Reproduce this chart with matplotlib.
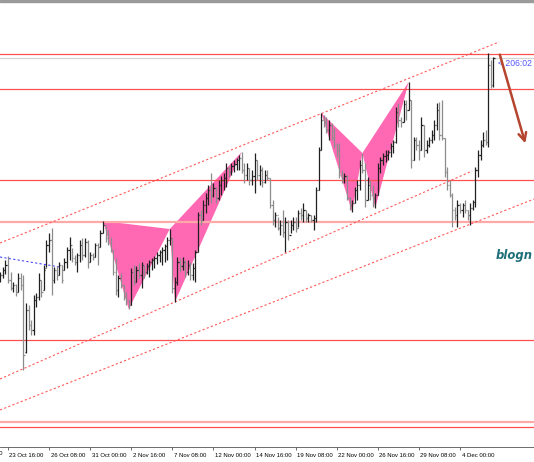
import matplotlib
matplotlib.use("Agg")
import matplotlib.pyplot as plt
import matplotlib.transforms as mtransforms
from matplotlib.patches import Rectangle
import numpy as np

# H4 bars, price in points
highs = [228, 233, 240, 244, 228, 218, 216, 227, 227, 225,
         197, 195, 180, 205, 207, 227, 220, 235, 260, 267,
         272, 233, 234, 238, 235, 242, 253, 263, 252, 245,
         247, 260, 262, 262, 260, 248, 247, 257, 257, 270,
         279, 274, 270, 263, 250, 242, 225, 227, 215, 208,
         200, 232, 235, 234, 237, 238, 235, 237, 240, 242,
         244, 248, 250, 253, 256, 263, 271, 262, 223, 243,
         242, 243, 240, 240, 238, 237, 250, 288, 290, 300,
         307, 315, 327, 317, 313, 320, 324, 327, 337, 333,
         337, 340, 342, 345, 348, 337, 337, 332, 330, 347,
         340, 335, 333, 330, 330, 322, 300, 288, 283, 280,
         290, 283, 280, 280, 283, 283, 290, 292, 297, 290,
         287, 285, 285, 313, 353, 387, 385, 383, 380, 377,
         372, 357, 357, 330, 327, 325, 303, 300, 313, 320,
         340, 347, 337, 323, 320, 315, 307, 337, 343, 347,
         350, 350, 357, 360, 393, 397, 383, 400, 400, 418,
         400, 363, 363, 360, 383, 375, 360, 363, 370, 380,
         397, 398, 400, 362, 333, 320, 307, 293, 300, 297,
         297, 300, 290, 297, 300, 333, 350, 360, 368, 370,
         447, 440, 443]
lows = [218, 222, 226, 217, 210, 208, 204, 208, 210, 130,
        147, 170, 165, 165, 193, 200, 203, 210, 233, 248,
        205, 217, 220, 225, 217, 230, 232, 240, 238, 235,
        228, 238, 240, 243, 232, 238, 240, 243, 235, 253,
        267, 258, 255, 248, 225, 205, 203, 212, 200, 195,
        191, 195, 215, 218, 222, 212, 222, 226, 223, 230,
        232, 236, 238, 235, 238, 240, 255, 207, 198, 215,
        228, 230, 223, 225, 220, 220, 218, 248, 275, 280,
        287, 295, 297, 303, 297, 300, 305, 310, 313, 323,
        325, 328, 330, 330, 327, 317, 320, 315, 315, 307,
        320, 315, 313, 317, 320, 292, 275, 273, 270, 265,
        263, 248, 260, 267, 270, 268, 273, 280, 278, 278,
        278, 278, 270, 278, 310, 350, 373, 367, 360, 360,
        352, 343, 322, 317, 317, 300, 290, 288, 297, 300,
        310, 327, 293, 300, 300, 293, 292, 305, 327, 335,
        338, 340, 343, 347, 357, 373, 373, 378, 380, 390,
        332, 340, 350, 340, 350, 343, 347, 353, 357, 360,
        370, 360, 360, 323, 310, 303, 273, 280, 273, 287,
        283, 287, 280, 275, 290, 293, 323, 340, 353, 355,
        353, 412, 413]
opens = [220, 225, 230, 235, 220, 212, 215, 208, 222, 215,
         148, 190, 175, 170, 200, 203, 220, 210, 232, 255,
         260, 220, 230, 225, 235, 230, 238, 250, 255, 242,
         238, 245, 255, 245, 258, 238, 245, 243, 255, 253,
         267, 275, 262, 257, 250, 228, 210, 222, 215, 203,
         200, 195, 228, 218, 230, 225, 235, 228, 234, 238,
         240, 242, 245, 248, 250, 254, 260, 262, 212, 218,
         238, 234, 238, 228, 235, 225, 232, 248, 285, 280,
         295, 302, 310, 305, 312, 302, 315, 320, 322, 332,
         328, 334, 336, 340, 342, 330, 325, 332, 320, 324,
         340, 325, 330, 318, 325, 322, 295, 280, 285, 272,
         275, 268, 278, 265, 275, 278, 272, 287, 285, 290,
         282, 285, 280, 282, 310, 350, 380, 378, 370, 375,
         362, 355, 350, 325, 322, 324, 302, 295, 297, 310,
         315, 335, 330, 300, 315, 305, 302, 305, 332, 340,
         344, 345, 348, 354, 358, 388, 380, 378, 396, 390,
         400, 340, 360, 355, 350, 375, 350, 355, 360, 365,
         375, 390, 365, 362, 328, 315, 305, 290, 285, 295,
         290, 295, 290, 285, 292, 298, 330, 345, 355, 360,
         358, 435, 415]
closes = [225, 230, 235, 220, 212, 215, 208, 222, 215, 145,
          190, 175, 170, 200, 203, 220, 208, 230, 255, 260,
          220, 230, 225, 235, 220, 238, 250, 255, 242, 238,
          245, 255, 245, 258, 238, 245, 243, 255, 253, 267,
          275, 262, 257, 250, 228, 210, 222, 215, 203, 200,
          195, 228, 218, 230, 225, 235, 228, 234, 238, 240,
          242, 245, 248, 250, 254, 260, 262, 212, 218, 238,
          234, 238, 228, 235, 225, 232, 248, 285, 280, 295,
          302, 310, 305, 312, 302, 315, 320, 322, 332, 328,
          334, 336, 340, 342, 330, 325, 332, 320, 324, 340,
          325, 330, 318, 325, 322, 295, 280, 285, 272, 275,
          268, 278, 265, 275, 278, 272, 287, 285, 290, 282,
          285, 280, 282, 310, 350, 380, 378, 370, 375, 362,
          355, 350, 325, 322, 324, 302, 295, 297, 310, 315,
          335, 330, 300, 315, 305, 302, 305, 332, 340, 344,
          345, 348, 354, 358, 388, 380, 378, 396, 390, 400,
          340, 360, 355, 350, 375, 350, 355, 360, 365, 375,
          390, 365, 362, 328, 315, 305, 290, 285, 295, 290,
          295, 290, 285, 292, 298, 330, 345, 355, 360, 358,
          435, 415, 442]

tick_bars = [-13, 3, 19, 35, 51, 67, 83, 99, 115, 131, 147, 163, 179]
tick_labels = ["19 Oct 00:00", "23 Oct 16:00", "26 Oct 08:00", "31 Oct 00:00",
               "2 Nov 16:00", "7 Nov 08:00", "12 Nov 00:00", "14 Nov 16:00",
               "19 Nov 08:00", "22 Nov 00:00", "26 Nov 16:00", "29 Nov 08:00",
               "4 Dec 00:00"]

# horizontal levels (price)
levels_solid = [446, 411, 320, 160, 73]
levels_light = [278.5, 78.3]
bid = 442

# channel lines: (bar0, price0, bar1, price1)
channels = [(-0.1, 257, 194.2, 458),
            (-0.1, 121, 183.7, 329),
            (-0.1, 90, 207.8, 301)]
blue_line = (-0.1, 243, 23.2, 233)

# harmonic pattern pivots: bar index of X, A, B, C, D
pattern1 = [40, 50, 66, 68, 94]
pattern2 = [125, 137, 141, 146, 159]

fig = plt.figure(figsize=(5.34, 4.62), dpi=100)
ax = fig.add_axes([0, 15 / 462, 1, 444 / 462])

n = len(highs)
x = np.arange(n)
highs = np.array(highs); lows = np.array(lows)
opens = np.array(opens); closes = np.array(closes)

for lv in levels_solid:
    ax.axhline(lv, color="#ff5050", lw=0.9, zorder=2)
for lv in levels_light:
    ax.axhline(lv, color="#ffa8a8", lw=1.6, zorder=2)
ax.axhline(bid, color="#d4d4d4", lw=0.9, zorder=2)

for x0, p0, x1, p1 in channels:
    ax.plot([x0, x1], [p0, p1], color="#ff5a5a", lw=0.8, ls=(0, (2, 2)), zorder=2)
ax.plot(blue_line[::2], blue_line[1::2], color="#4a4aff", lw=0.8, ls=(0, (2, 2)), zorder=2)

for p in (pattern1, pattern2):
    X, A, B, C, D = p
    pts = [(X, highs[X]), (A, lows[A]), (B, highs[B]), (C, lows[C]), (D, highs[D])]
    for tri in (pts[0:3], pts[2:5]):
        ax.fill([t[0] for t in tri], [t[1] for t in tri], color="#ff69b4", lw=0, zorder=1)

up = closes >= opens
cols = np.where(up, "#202020", "#8c8c8c")
ax.vlines(x, lows, highs, colors=cols, lw=0.9, zorder=3)
ax.hlines(opens, x - 0.45, x, colors=cols, lw=0.9, zorder=3)
ax.hlines(closes, x, x + 0.45, colors=cols, lw=0.9, zorder=3)

# forecast arrow
ax.annotate("", xy=(204.7, 354), xytext=(194.2, 448),
            arrowprops=dict(arrowstyle="->", color="#b5452f", lw=1.8,
                            mutation_scale=14), zorder=4)

ax.text(193.8, 437, "< 206:02", color="#5555ff", fontsize=6.2,
        va="center", ha="left", family="Liberation Sans")
ax.text(192.8, 245, "blogn", color="#1f6f7a", fontsize=8.4, fontweight="bold",
        style="italic", va="center", ha="left", family="DejaVu Sans")

ax.set_xticks(tick_bars[1:])
ax.set_xticklabels(tick_labels[1:], ha="left", fontsize=4.3, family="Liberation Sans")
ax.tick_params(axis="x", direction="out", length=2.5, width=0.6, color="#555555", pad=1.5)
offset = mtransforms.ScaledTranslation(1.5 / 100, 0, fig.dpi_scale_trans)
for lbl in ax.get_xticklabels():
    lbl.set_transform(lbl.get_transform() + offset)
# first label sits mostly left of the visible area
first = ax.text(tick_bars[0], 0, tick_labels[0], fontsize=4.3, family="Liberation Sans",
                ha="left", va="top", clip_on=False,
                transform=ax.get_xaxis_transform() +
                mtransforms.ScaledTranslation(1.5 / 100, -4.3 / 100, fig.dpi_scale_trans))
ax.set_yticks([])
ax.set_xlim(-0.1, 207.8)
ax.set_ylim(53, 497)
for s in ["top", "right", "left"]:
    ax.spines[s].set_visible(False)
ax.spines["bottom"].set_color("#555555")
ax.spines["bottom"].set_linewidth(0.6)

fig.patches.append(Rectangle((0, 1 - 2 / 462), 1, 2 / 462, transform=fig.transFigure,
                             color="#9a9a9a", zorder=5))

fig.savefig("out.png", dpi=100)
